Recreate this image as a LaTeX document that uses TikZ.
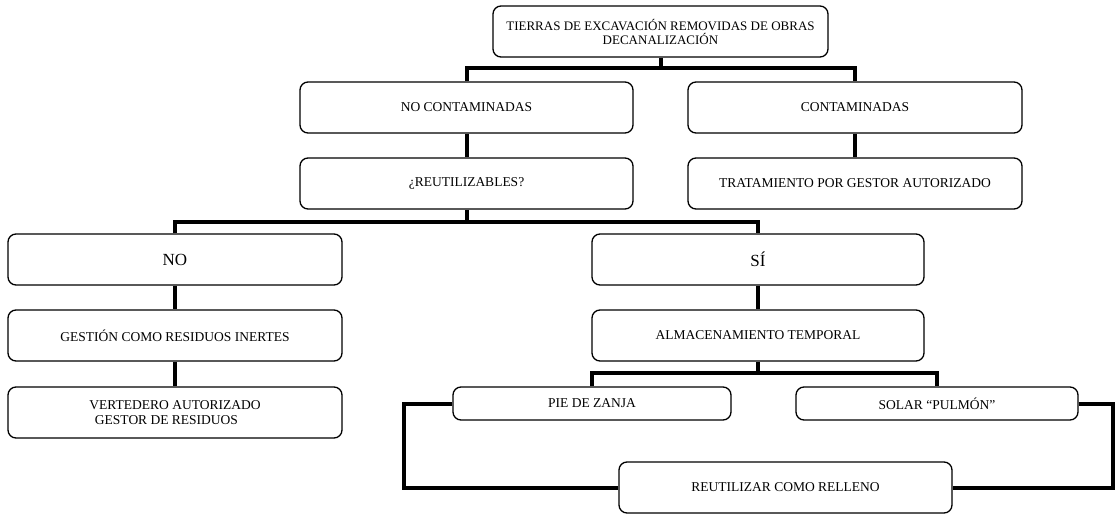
\documentclass[tikz,border=0pt]{standalone}
\usepackage{fontspec}
\setmainfont{Liberation Serif}
\begin{document}
\begin{tikzpicture}[x=1pt,y=-1pt,
  box/.style={draw, line width=1.3pt, rounded corners=8pt, fill=white, inner sep=0pt,
    minimum width=333pt, minimum height=51pt, align=center,
    font=\fontsize{13.5}{15}\selectfont},
  smallbox/.style={box, minimum height=33pt},
  bigtext/.style={font=\fontsize{17}{19}\selectfont},
  conn/.style={line width=4pt, line cap=butt, line join=miter}]
\useasboundingbox (0,0) rectangle (1117,514);

\node[box, minimum width=335pt, font=\fontsize{13}{14}\selectfont] (top) at (660.5,31.5)
  {TIERRAS DE EXCAVACIÓN REMOVIDAS DE OBRAS\\DECANALIZACIÓN};
\node[box] (nocont) at (466.5,107.5) {NO CONTAMINADAS};
\node[box, minimum width=334pt] (cont) at (855,107.5) {CONTAMINADAS};
\node[box] (reut) at (466.5,183.5) {¿REUTILIZABLES?};
\node[box, minimum width=334pt] (trat) at (855,183.5) {TRATAMIENTO POR GESTOR AUTORIZADO};
\node[box, minimum width=334pt, bigtext] (no) at (175,259.5) {NO};
\node[box, minimum width=332pt, bigtext] (si) at (758,259.5) {SÍ};
\node[box, minimum width=334pt] (gest) at (175,335.5) {GESTIÓN COMO RESIDUOS INERTES};
\node[box, minimum width=332pt] (almac) at (758,335.5) {ALMACENAMIENTO TEMPORAL};
\node[box, minimum width=334pt] (vert) at (175,412.5) {VERTEDERO AUTORIZADO\\GESTOR DE RESIDUOS\hspace*{17pt}};
\node[smallbox, minimum width=278pt] (pie) at (592,403.5) {PIE DE ZANJA};
\node[smallbox, minimum width=282pt] (solar) at (937,403.5) {SOLAR “PULMÓN”};
\node[box] (rell) at (785.5,487.5) {REUTILIZAR COMO RELLENO};

\coordinate (b1) at (662,68);
\coordinate (b2) at (466.5,222);
\coordinate (b3) at (758,373);
\coordinate (lx) at (404,487.5);
\coordinate (rx) at (1113,487.5);

\draw[conn] (top.south) -- (top.south |- b1);
\draw[conn] (nocont.north) -- (nocont.north |- b1) -- (cont.north |- b1) -- (cont.north);
\draw[conn] (nocont.south) -- (reut.north);
\draw[conn] (cont.south) -- (trat.north);
\draw[conn] (reut.south) -- (reut.south |- b2);
\draw[conn] (no.north) -- (no.north |- b2) -- (si.north |- b2) -- (si.north);
\draw[conn] (no.south) -- (gest.north);
\draw[conn] (gest.south) -- (vert.north);
\draw[conn] (si.south) -- (almac.north);
\draw[conn] (almac.south) -- (almac.south |- b3);
\draw[conn] (pie.north) -- (pie.north |- b3) -- (solar.north |- b3) -- (solar.north);
\draw[conn] (pie.west) -- (pie.west -| lx) -- (lx) -- (rell.west);
\draw[conn] (solar.east) -- (solar.east -| rx) -- (rx) -- (rell.east);
\end{tikzpicture}
\end{document}
